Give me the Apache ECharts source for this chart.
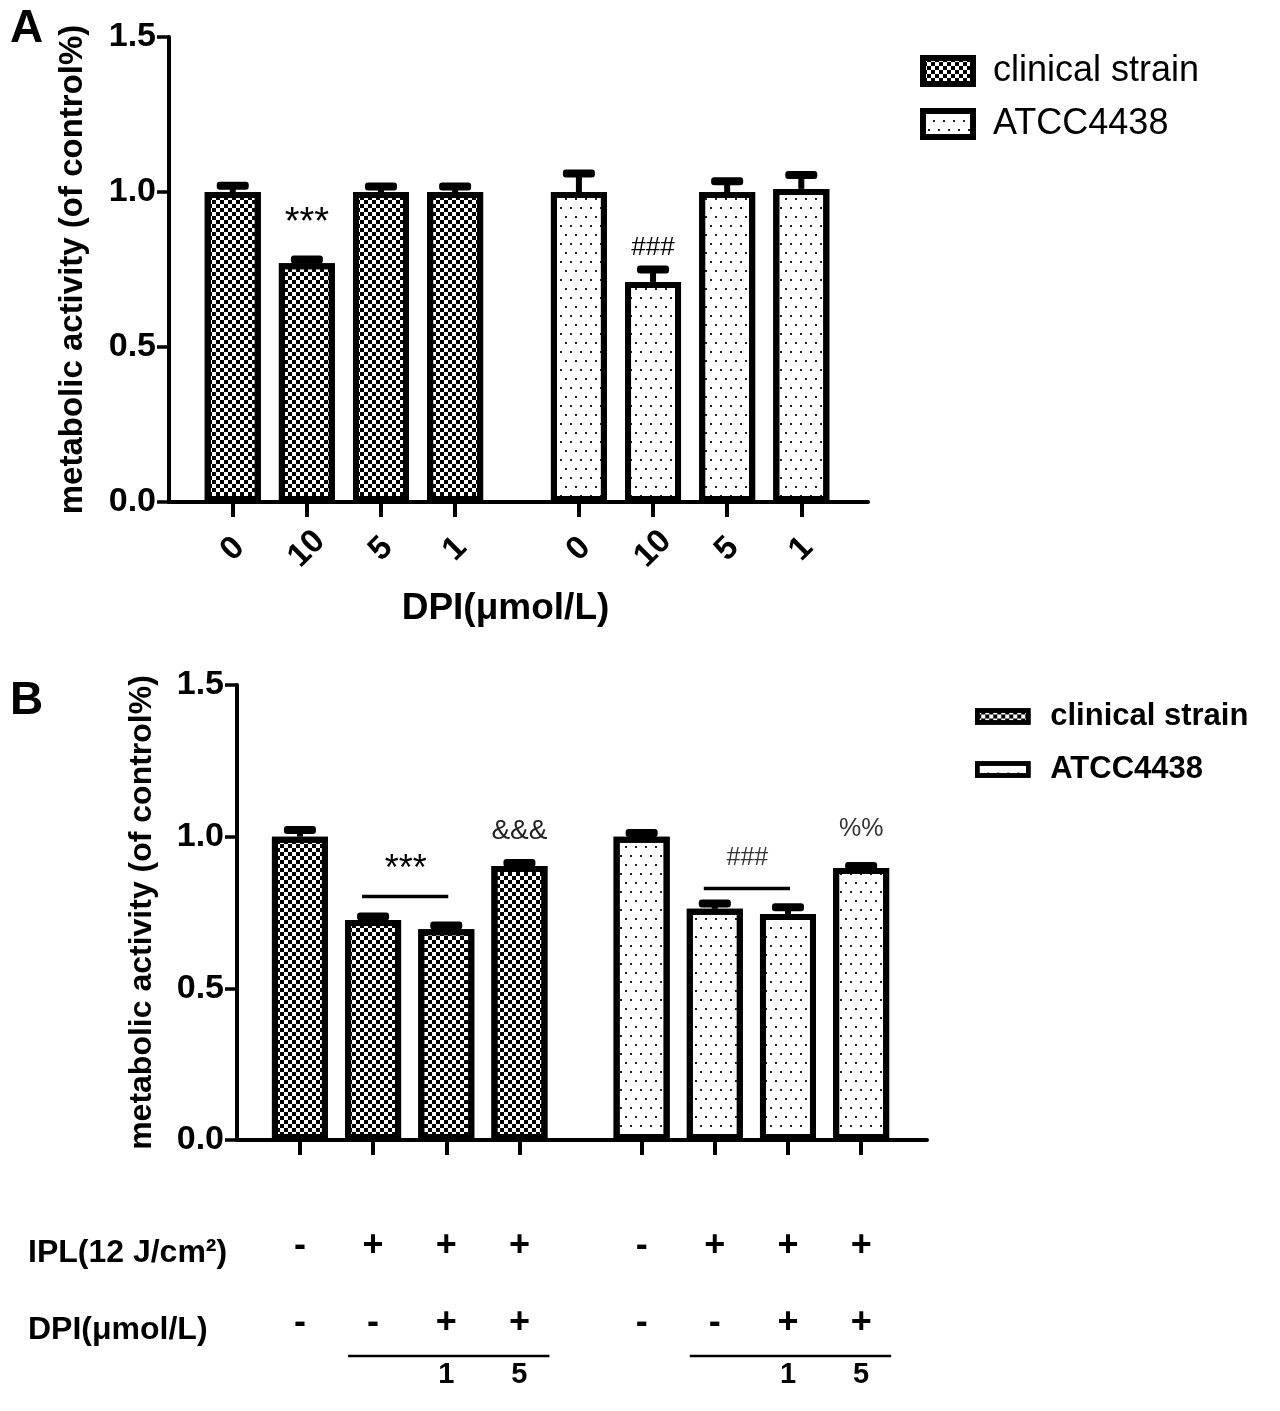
<!DOCTYPE html>
<html lang="en">
<head>
<meta charset="UTF-8">
<title>metabolic activity</title>
<script src="https://cdn.jsdelivr.net/npm/echarts@6/dist/echarts.min.js"></script>
<style>
    html, body { margin: 0; padding: 0; background: #fff; }
    #view { width: 1280px; height: 1411px; }
</style>
</head>
<body>
<div id="view"></div>
<script>
// ---- data ----
var seriesNames = ['clinical strain', 'ATCC4438'];
var doseLabels = ['0', '10', '5', '1'];            // panel A, DPI (μmol/L)

var aClinical = [1.00, 0.77, 1.00, 1.00];
var aClinicalErr = [0.020, 0.012, 0.018, 0.018];
var aAtcc = [1.00, 0.71, 1.00, 1.01];
var aAtccErr = [0.060, 0.040, 0.035, 0.045];

var bClinical = [1.00, 0.725, 0.695, 0.903];
var bClinicalErr = [0.022, 0.012, 0.012, 0.010];
var bAtcc = [1.00, 0.762, 0.745, 0.897];
var bAtccErr = [0.012, 0.018, 0.022, 0.006];

var iplSigns = ['-', '+', '+', '+'];
var dpiSigns = ['-', '-', '+', '+'];
var dpiDose = ['', '', '1', '5'];

var yTicks = [0, 0.5, 1.0, 1.5];

(function () {
    var chart = echarts.init(document.getElementById('view'));
    var FONT = '"Liberation Sans", Arial, sans-serif';

    // bar slots on the x value axis: 4 bars, a wider gap, 4 bars
    var lead = 0.86, shift = 4.67, xMax = 9.43;
    var pos = [];
    for (var g = 0; g < 2; g++) {
        for (var i = 0; i < 4; i++) pos.push(+(lead + g * shift + i).toFixed(2));
    }
    function pairs(vals, off) {
        return vals.map(function (v, i) { return [pos[off + i], v]; });
    }
    function errs(vals, e, off) {
        return vals.map(function (v, i) { return [pos[off + i], v, e[i]]; });
    }

    var checker = {
        symbol: 'rect', symbolSize: 1, color: '#000',
        dashArrayX: [[4, 4], [0, 4, 4, 0]], dashArrayY: [4, 0]
    };
    var dots = {
        symbol: 'rect', symbolSize: 1, color: '#222',
        dashArrayX: [[2, 8], [0, 5, 2, 3]], dashArrayY: [2, 7]
    };

    function barSeries(name, k, data, decal) {
        return {
            name: name, type: 'bar', xAxisIndex: k, yAxisIndex: k,
            barWidth: 56, barGap: '-100%', z: 3,
            itemStyle: { color: '#fff', borderColor: '#000', borderWidth: 6, decal: decal },
            emphasis: { disabled: true },
            data: data
        };
    }

    function errorBars(k, data) {
        return {
            type: 'custom', xAxisIndex: k, yAxisIndex: k, z: 2, silent: true,
            renderItem: function (params, api) {
                var x = api.value(0), m = api.value(1), e = api.value(2);
                var top = api.coord([x, m + e]);
                var base = api.coord([x, m]);
                return { type: 'group', children: [
                    { type: 'rect', shape: { x: top[0] - 3, y: top[1], width: 6, height: base[1] - top[1] }, style: { fill: '#000' } },
                    { type: 'rect', shape: { x: top[0] - 16, y: top[1] - 4, width: 32, height: 8, r: 3 }, style: { fill: '#000' } }
                ] };
            },
            data: data
        };
    }

    // significance marks: bar index, text, pixel lift above the error bar, optional bracket end
    function marks(k, list, means, errors) {
        return {
            type: 'custom', xAxisIndex: k, yAxisIndex: k, z: 4, silent: true,
            renderItem: function (params, api) {
                var m = list[params.dataIndex];
                var topVal = 0;
                var last = m.to != null ? m.to : m.bar;
                for (var j = m.bar; j <= last; j++) topVal = Math.max(topVal, means[j] + errors[j]);
                var p0 = api.coord([pos[m.bar], topVal]);
                var kids = [];
                var cx = p0[0];
                if (m.to != null) {
                    var p1 = api.coord([pos[m.to], topVal]);
                    var ly = p0[1] - m.line;
                    kids.push({ type: 'line', shape: { x1: p0[0] - 11, y1: ly, x2: p1[0] + 2, y2: ly }, style: { stroke: '#000', lineWidth: 3.5 } });
                    cx = (p0[0] + p1[0]) / 2 - 4;
                }
                kids.push({ type: 'text', x: cx, y: p0[1] - m.lift, style: {
                    text: m.text, fontFamily: FONT, fontSize: m.size, fill: m.color || '#000',
                    align: 'center', verticalAlign: 'middle' } });
                return { type: 'group', children: kids };
            },
            data: list.map(function (m, i) { return [pos[m.bar], 0]; })
        };
    }

    var allA = aClinical.concat(aAtcc), allAErr = aClinicalErr.concat(aAtccErr);
    var allB = bClinical.concat(bAtcc), allBErr = bClinicalErr.concat(bAtccErr);

    // treatment table under panel B
    var table = {
        type: 'custom', xAxisIndex: 1, yAxisIndex: 1, z: 4, silent: true, clip: false,
        renderItem: function (params, api) {
            var i = params.dataIndex, r = i % 4;
            var p = api.coord([pos[i], 0]);
            var st = function (t, dy, size) {
                return { type: 'text', x: p[0], y: p[1] + dy, style: {
                    text: t, fontFamily: FONT, fontSize: size, fontWeight: 'bold', fill: '#000',
                    align: 'center', verticalAlign: 'middle' } };
            };
            var kids = [st(iplSigns[r], 106, 36), st(dpiSigns[r], 183, 36)];
            if (dpiDose[r]) kids.push(st(dpiDose[r], 235, 29));
            if (r === 1) {
                var q = api.coord([pos[i + 2], 0]);
                kids.push({ type: 'line', shape: { x1: p[0] - 25, y1: p[1] + 216, x2: q[0] + 30, y2: p[1] + 216 },
                    style: { stroke: '#000', lineWidth: 2.5 } });
            }
            return { type: 'group', children: kids };
        },
        data: pos.map(function (x) { return [x, 0]; })
    };

    function yAxis(k, gap, nameSize) {
        return {
            gridIndex: k, type: 'value', min: 0, max: 1.5, interval: 0.5,
            name: 'metabolic activity (of control%)', nameLocation: 'middle', nameGap: gap,
            nameTextStyle: { fontFamily: FONT, fontSize: nameSize, fontWeight: 'bold', color: '#000' },
            axisLine: { show: true, lineStyle: { color: '#000', width: 4 } },
            axisTick: { show: true, length: 12, lineStyle: { color: '#000', width: 3.5 } },
            axisLabel: { margin: 13, fontFamily: FONT, fontSize: 34, fontWeight: 'bold', color: '#000',
                formatter: function (v) { return yTicks.indexOf(v) >= 0 ? v.toFixed(1) : ''; } },
            splitLine: { show: false }
        };
    }

    function xAxis(k, withLabels) {
        var ax = {
            gridIndex: k, type: 'value', min: 0, max: xMax,
            axisLine: { show: true, onZero: false, lineStyle: { color: '#000', width: 4 } },
            axisTick: { show: true, customValues: pos, length: 15, lineStyle: { color: '#000', width: 4 } },
            axisLabel: { show: withLabels, customValues: pos, rotate: 45, align: 'center', verticalAlign: 'middle',
                margin: 47, fontFamily: FONT, fontSize: 33, fontWeight: 'bold', color: '#000',
                formatter: function (v) {
                    for (var j = 0; j < pos.length; j++) if (Math.abs(pos[j] - v) < 1e-6) return doseLabels[j % 4];
                    return '';
                } },
            splitLine: { show: false }
        };
        if (withLabels) {
            ax.name = 'DPI(μmol/L)';
            ax.nameLocation = 'middle';
            ax.nameGap = 88;
            ax.nameTextStyle = { fontFamily: FONT, fontSize: 37, fontWeight: 'bold', color: '#000',
                verticalAlign: 'top', padding: [0, 26, 0, 0] };
        }
        return ax;
    }

    var option = {
        backgroundColor: '#fff',
        animation: false,
        grid: [
            { left: 169, top: 37, width: 699, height: 465 },
            { left: 237, top: 685, width: 690, height: 455 }
        ],
        xAxis: [xAxis(0, true), xAxis(1, false)],
        yAxis: [yAxis(0, 80, 33), yAxis(1, 79, 32)],
        legend: [
            { data: seriesNames, orient: 'vertical', left: 915, top: 48, icon: 'rect', selectedMode: false,
              itemWidth: 50, itemHeight: 26, itemGap: 17,
              itemStyle: { borderColor: '#000', borderWidth: 6 },
              textStyle: { fontFamily: FONT, fontSize: 36, color: '#000', lineHeight: 36, padding: [0, 0, 0, 15] } },
            { data: seriesNames, orient: 'vertical', left: 970, top: 695, icon: 'rect', selectedMode: false,
              itemWidth: 51, itemHeight: 12, itemGap: 20,
              itemStyle: { borderColor: '#000', borderWidth: 4.5 },
              textStyle: { fontFamily: FONT, fontSize: 31, fontWeight: 'bold', color: '#000', lineHeight: 33, padding: [0, 0, 0, 17] } }
        ],
        graphic: [
            { type: 'text', left: 10, top: 6, style: { text: 'A', fontFamily: FONT, fontSize: 46, fontWeight: 'bold', fill: '#000' } },
            { type: 'text', left: 10, top: 678, style: { text: 'B', fontFamily: FONT, fontSize: 46, fontWeight: 'bold', fill: '#000' } },
            { type: 'text', left: 28, top: 1237, style: { text: 'IPL(12 J/cm²)', fontFamily: FONT, fontSize: 32, fontWeight: 'bold', fill: '#000' } },
            { type: 'text', left: 28, top: 1314, style: { text: 'DPI(μmol/L)', fontFamily: FONT, fontSize: 32, fontWeight: 'bold', fill: '#000' } }
        ],
        series: [
            barSeries(seriesNames[0], 0, pairs(aClinical, 0), checker),
            barSeries(seriesNames[1], 0, pairs(aAtcc, 4), dots),
            errorBars(0, errs(aClinical, aClinicalErr, 0).concat(errs(aAtcc, aAtccErr, 4))),
            marks(0, [
                { bar: 1, text: '***', size: 38, lift: 36 },
                { bar: 5, text: '###', size: 26, lift: 22 }
            ], allA, allAErr),
            barSeries(seriesNames[0], 1, pairs(bClinical, 0), checker),
            barSeries(seriesNames[1], 1, pairs(bAtcc, 4), dots),
            errorBars(1, errs(bClinical, bClinicalErr, 0).concat(errs(bAtcc, bAtccErr, 4))),
            marks(1, [
                { bar: 1, to: 2, line: 20, text: '***', size: 36, lift: 46 },
                { bar: 3, text: '&&&', size: 28, lift: 32, color: '#222' },
                { bar: 5, to: 6, line: 15, text: '###', size: 25, lift: 45, color: '#333' },
                { bar: 7, text: '%%', size: 25, lift: 37, color: '#333' }
            ], allB, allBErr),
            table
        ]
    };

    chart.setOption(option);
    window.addEventListener('resize', function () { chart.resize(); });
})();
</script>
</body>
</html>
